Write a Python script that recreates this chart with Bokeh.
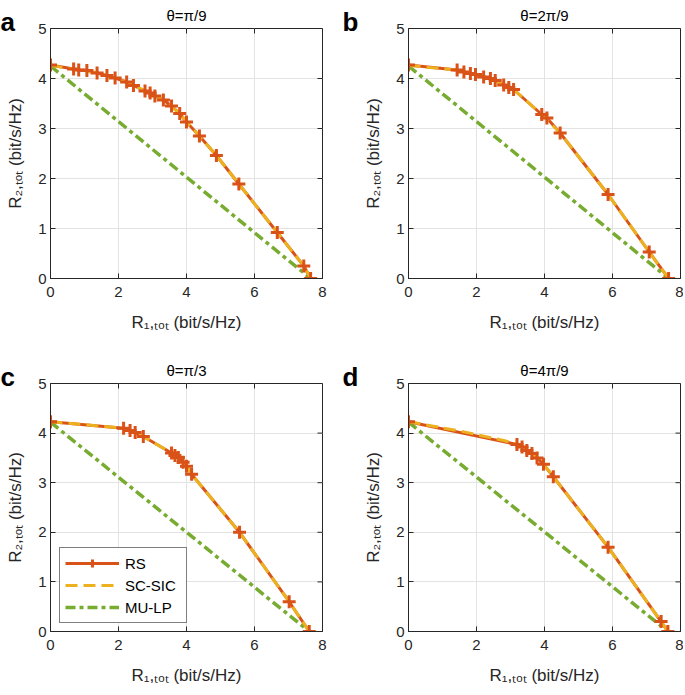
import math
from bokeh.plotting import figure
from bokeh.layouts import column, row
from bokeh.models import Label, Legend, LegendItem, Range1d, FixedTicker
from bokeh.embed import file_html
from bokeh.resources import INLINE

FONT = "Liberation Sans"
C_RS = "#D95319"
C_SC = "#EDB120"
C_MU = "#77AC30"
DARK = "#262626"

titles = ["θ=π/9", "θ=2π/9", "θ=π/3", "θ=4π/9"]
letters = ["a", "b", "c", "d"]
x_max = 8
y_max = 5
x_ticks = [0, 2, 4, 6, 8]
y_ticks = [0, 1, 2, 3, 4, 5]
series_names = ["RS", "SC-SIC", "MU-LP"]
x_label = "R\u2081,\u209c\u2092\u209c (bit/s/Hz)"
y_label = "R\u2082,\u209c\u2092\u209c (bit/s/Hz)"

# ---- panel a (theta = pi/9)
a_rs_r1 = [0, 0.68, 0.83, 1.07, 1.37, 1.66, 1.90, 2.24, 2.44, 2.78, 2.93, 3.07, 3.32, 3.56, 3.80, 4.00, 4.38, 4.88, 5.54, 6.67, 7.45, 7.65]
a_rs_r2 = [4.27, 4.19, 4.17, 4.16, 4.11, 4.06, 4.01, 3.93, 3.86, 3.75, 3.71, 3.65, 3.57, 3.45, 3.30, 3.13, 2.85, 2.46, 1.89, 0.92, 0.25, 0.00]
a_sc_r1 = [0, 0.83, 1.37, 1.90, 2.44, 2.93, 3.32, 3.80, 4.38, 4.88, 5.54, 6.67, 7.45, 7.65]
a_sc_r2 = [4.26, 4.17, 4.11, 4.01, 3.86, 3.71, 3.57, 3.30, 2.85, 2.46, 1.89, 0.92, 0.25, 0.00]
a_mu_r1 = [0, 7.65]
a_mu_r2 = [4.25, 0.0]

# ---- panel b (theta = 2pi/9)
b_rs_r1 = [0, 1.43, 1.63, 1.82, 1.97, 2.21, 2.41, 2.55, 2.80, 2.95, 3.09, 3.92, 4.07, 4.46, 5.87, 7.08, 7.65]
b_rs_r2 = [4.27, 4.17, 4.13, 4.10, 4.08, 4.03, 4.00, 3.96, 3.87, 3.82, 3.78, 3.28, 3.21, 2.91, 1.68, 0.53, 0.00]
b_sc_r1 = [0, 1.43, 1.97, 2.41, 2.80, 3.09, 3.92, 4.46, 5.87, 7.08, 7.65]
b_sc_r2 = [4.26, 4.17, 4.08, 4.00, 3.87, 3.78, 3.28, 2.91, 1.68, 0.53, 0.00]
b_mu_r1 = [0, 7.65]
b_mu_r2 = [4.25, 0.0]

# ---- panel c (theta = pi/3)
c_rs_r1 = [0, 2.15, 2.34, 2.49, 2.73, 3.56, 3.66, 3.76, 3.90, 4.00, 4.15, 5.56, 7.02, 7.61]
c_rs_r2 = [4.23, 4.10, 4.05, 4.01, 3.93, 3.60, 3.55, 3.51, 3.41, 3.33, 3.17, 2.00, 0.60, 0.00]
c_sc_r1 = [0, 2.15, 2.49, 2.73, 3.56, 3.76, 4.00, 4.15, 5.56, 7.02, 7.61]
c_sc_r2 = [4.23, 4.10, 4.01, 3.93, 3.60, 3.51, 3.33, 3.17, 2.00, 0.60, 0.00]
c_mu_r1 = [0, 7.61]
c_mu_r2 = [4.22, 0.0]

# ---- panel d (theta = 4pi/9)
d_rs_r1 = [0, 3.19, 3.34, 3.48, 3.63, 3.78, 3.97, 4.26, 5.87, 7.43, 7.63]
d_rs_r2 = [4.23, 3.77, 3.72, 3.65, 3.59, 3.50, 3.37, 3.12, 1.70, 0.20, 0.00]
d_sc_r1 = [0, 1.60, 2.80, 3.30, 3.63, 3.97, 4.26, 5.87, 7.43, 7.63]
d_sc_r2 = [4.23, 4.03, 3.85, 3.76, 3.60, 3.38, 3.12, 1.70, 0.20, 0.00]
d_mu_r1 = [0, 7.63]
d_mu_r2 = [4.22, 0.0]

panels = [
    (a_rs_r1, a_rs_r2, a_sc_r1, a_sc_r2, a_mu_r1, a_mu_r2),
    (b_rs_r1, b_rs_r2, b_sc_r1, b_sc_r2, b_mu_r1, b_mu_r2),
    (c_rs_r1, c_rs_r2, c_sc_r1, c_sc_r2, c_mu_r1, c_mu_r2),
    (d_rs_r1, d_rs_r2, d_sc_r1, d_sc_r2, d_mu_r1, d_mu_r2),
]


def letter_label(text, dx, frame_h):
    return Label(x=dx, y=frame_h + 6, x_units="screen", y_units="screen",
                 text=text, text_font=FONT, text_font_size="26px",
                 text_font_style="bold", text_color="black",
                 text_baseline="alphabetic", text_align="left")


def make_panel(i, width, height, left, right, top, bottom, with_legend, letter_pair):
    rs1, rs2, sc1, sc2, mu1, mu2 = panels[i]
    p = figure(width=width, height=height, output_backend="svg", toolbar_location=None,
               x_range=Range1d(0, x_max), y_range=Range1d(0, y_max),
               min_border_left=left, min_border_right=right,
               min_border_top=top, min_border_bottom=bottom,
               title=titles[i])
    p.title.text_font = FONT
    p.title.text_font_size = "15px"
    p.title.text_font_style = "normal"
    p.title.text_color = "black"
    p.title.align = "center"
    p.title.offset = 13
    p.title.standoff = 9

    p.outline_line_color = DARK
    p.outline_line_width = 1
    p.background_fill_color = "white"
    p.border_fill_color = "white"

    p.xaxis.ticker = FixedTicker(ticks=x_ticks)
    p.yaxis.ticker = FixedTicker(ticks=y_ticks)
    for ax in (p.xaxis[0], p.yaxis[0]):
        ax.axis_line_color = DARK
        ax.major_tick_line_color = DARK
        ax.major_tick_in = 5
        ax.major_tick_out = 0
        ax.minor_tick_line_color = None
        ax.major_label_text_font = FONT
        ax.major_label_text_font_size = "15px"
        ax.major_label_text_color = DARK
        ax.axis_label_text_font = FONT
        ax.axis_label_text_font_size = "17px"
        ax.axis_label_text_font_style = "normal"
        ax.axis_label_text_color = DARK
    p.xaxis.major_label_standoff = 8
    p.xaxis.axis_label_standoff = 13
    p.yaxis.major_label_standoff = 4
    p.yaxis.axis_label_standoff = 10
    p.xaxis.axis_label = x_label
    p.yaxis.axis_label = y_label
    p.xgrid.ticker = FixedTicker(ticks=x_ticks)
    p.ygrid.ticker = FixedTicker(ticks=y_ticks)
    p.grid.grid_line_color = "#e3e3e3"
    p.grid.grid_line_width = 1

    # inward ticks on the top and right edges of the box (MATLAB "box on")
    p.ray(x=[x_max] * len(y_ticks), y=y_ticks, length=5, length_units="screen",
          angle=math.pi, line_color=DARK, line_width=1)
    p.ray(x=x_ticks, y=[y_max] * len(x_ticks), length=5, length_units="screen",
          angle=-math.pi / 2, line_color=DARK, line_width=1)

    mu = p.line(mu1, mu2, line_color=C_MU, line_width=3.5, line_dash="10 4 4 4")
    rs_line = p.line(rs1, rs2, line_color=C_RS, line_width=3)
    sc = p.line(sc1, sc2, line_color=C_SC, line_width=3, line_dash="12 6")
    rs_mark = p.scatter(rs1, rs2, marker="cross", size=13, line_width=3, line_color=C_RS)

    frame_h = height - top - bottom
    # panel letters live in the right side panel (side panels are not clipped to the frame)
    if letter_pair is not None:
        (t_near, dx_near), (t_far, dx_far) = letter_pair
        p.add_layout(letter_label(t_near, dx_near, frame_h), "right")
        p.add_layout(letter_label(t_far, dx_far, frame_h), "right")

    if with_legend:
        leg = Legend(items=[
            LegendItem(label=series_names[0], renderers=[rs_line, rs_mark]),
            LegendItem(label=series_names[1], renderers=[sc]),
            LegendItem(label=series_names[2], renderers=[mu]),
        ], location=(9, 8))
        leg.label_text_font = FONT
        leg.label_text_font_size = "15px"
        leg.label_text_color = "black"
        leg.glyph_width = 54
        leg.glyph_height = 20
        leg.label_standoff = 6
        leg.label_width = 56
        leg.spacing = 2
        leg.padding = 5
        leg.margin = 0
        leg.border_line_color = "black"
        leg.border_line_width = 1
        leg.background_fill_alpha = 1
        p.add_layout(leg, "center")
    return p


# near label: bbox starts at the frame's right edge (page x 322); far label after it
pa = make_panel(0, 358, 355, 50, 36, 27, 77, False,
                ((letters[1], 20), (letters[0], -338)))
pb = make_panel(1, 325, 355, 50, 3, 27, 77, False, None)
pc = make_panel(2, 358, 338, 50, 36, 27, 62, True,
                ((letters[3], 20), (letters[2], -338)))
pd = make_panel(3, 325, 338, 50, 3, 27, 62, False, None)

layout = column(row(pa, pb), row(pc, pd))
open("out.html", "w").write(file_html(layout, INLINE))
